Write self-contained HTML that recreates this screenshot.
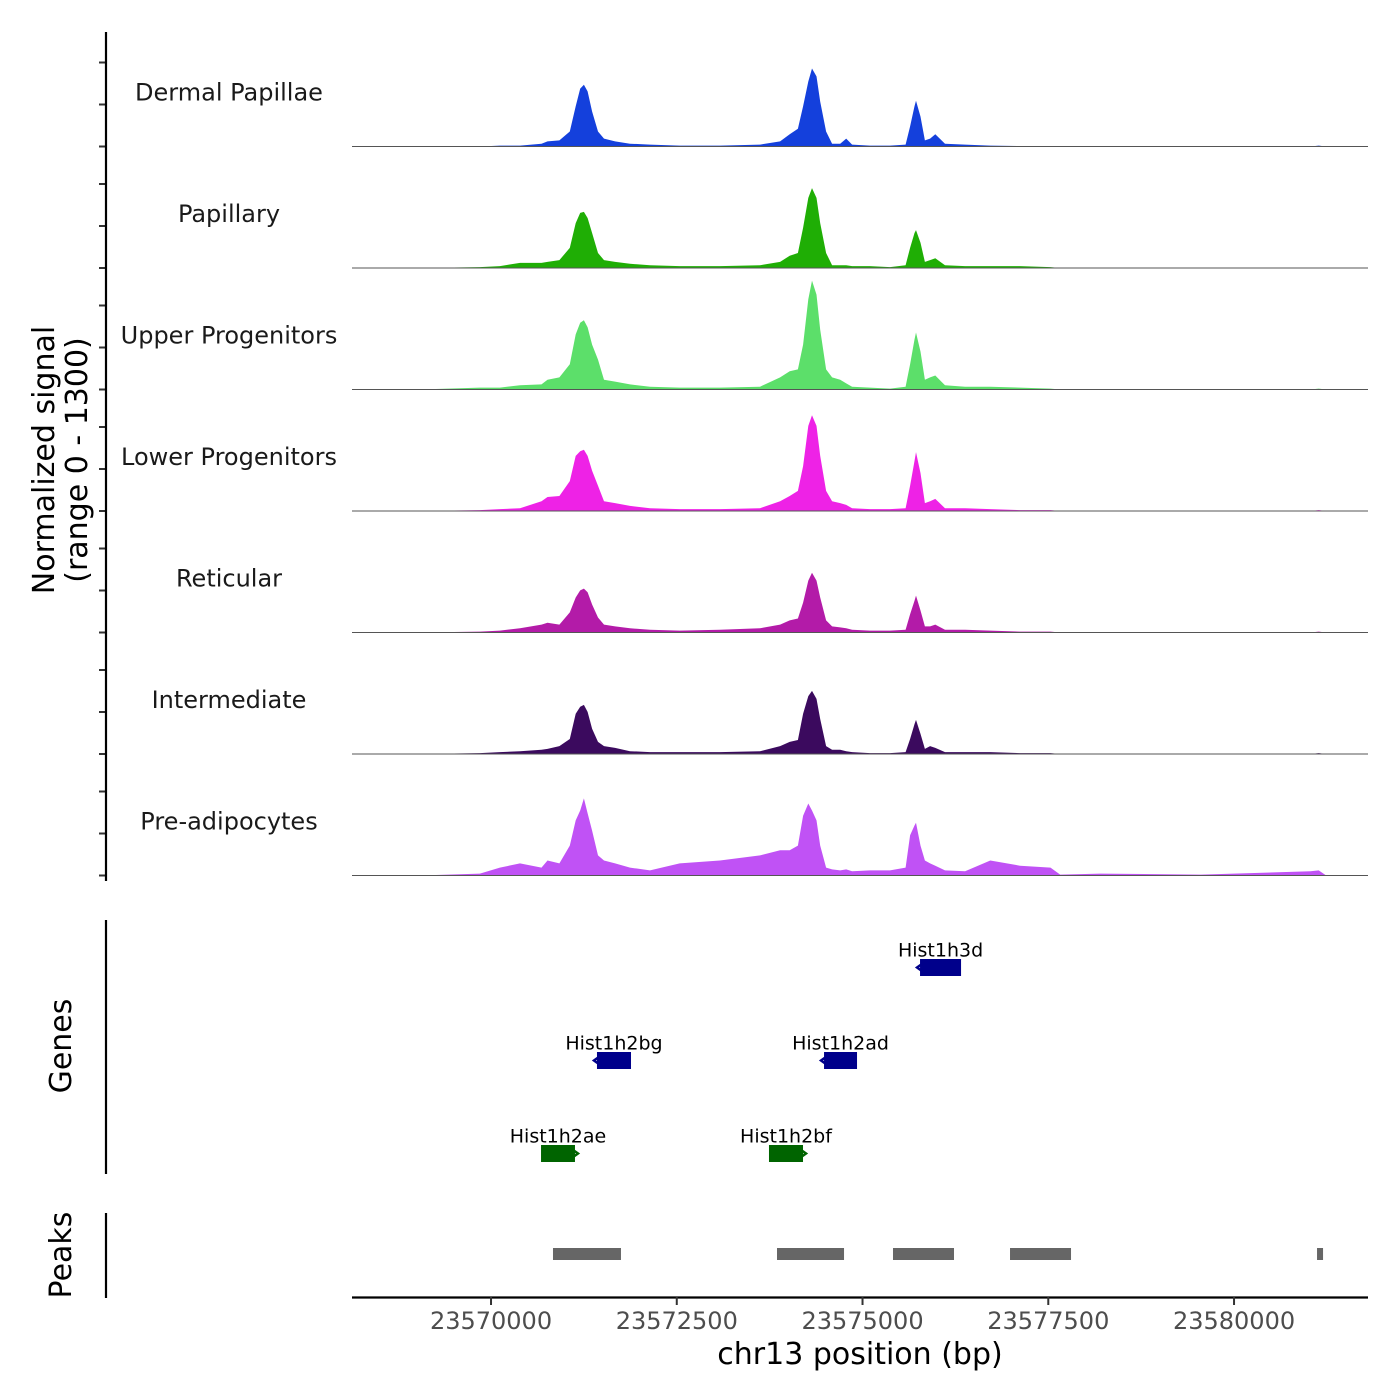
<!DOCTYPE html>
<html><head><meta charset="utf-8"><style>
html,body{margin:0;padding:0;background:#fff}
svg{display:block;font-family:"DejaVu Sans","Liberation Sans",sans-serif}
</style></head><body>
<svg id="chart" width="1400" height="1400" viewBox="0 0 1400 1400" xmlns="http://www.w3.org/2000/svg">
<g id="tracks"></g>
<g id="yaxis"></g>
<g id="genes"></g>
<g id="peaks"></g>
<g id="xaxis"></g>
<text transform="translate(54,460) rotate(-90)" text-anchor="middle" font-size="30" fill="#000">Normalized signal</text>
<text transform="translate(87,460) rotate(-90)" text-anchor="middle" font-size="30" fill="#000">(range 0 - 1300)</text>
<text transform="translate(71,1046) rotate(-90)" text-anchor="middle" font-size="30" fill="#000">Genes</text>
<text transform="translate(71,1255) rotate(-90)" text-anchor="middle" font-size="30" fill="#000">Peaks</text>
<text x="860" y="1364" text-anchor="middle" font-size="30" fill="#000">chr13 position (bp)</text>
</svg>
<script>
const positions=[23568120,23569040,23569850,23570120,23570390,23570680,23570760,23570920,23571060,23571140,23571200,23571250,23571300,23571360,23571440,23571520,23571670,23571870,23572140,23572540,23573080,23573620,23573890,23574020,23574130,23574200,23574270,23574320,23574380,23574430,23574510,23574590,23574700,23574780,23574860,23575100,23575370,23575580,23575640,23575700,23575720,23575780,23575840,23575910,23575980,23576110,23576380,23576720,23577120,23577530,23577660,23578200,23579550,23581030,23581140,23581240,23581820];
const trackNames=["Dermal Papillae","Papillary","Upper Progenitors","Lower Progenitors","Reticular","Intermediate","Pre-adipocytes"];
const trackColors=["#1440dc","#1fae05","#5cdf6a","#ee22e6","#b31ba8","#3b0a5e","#c052f5"];
const dermalPapillae=[0,0,0,10,10,30,55,65,160,430,620,660,590,375,160,85,55,30,20,10,10,20,55,130,190,430,695,835,750,480,160,30,30,85,20,10,10,20,215,430,490,320,65,85,130,30,20,10,5,0,0,0,0,0,10,0,0];
const papillary=[0,0,10,20,55,55,65,85,215,480,590,600,535,375,160,85,65,45,30,20,20,30,65,130,160,430,750,855,750,480,160,30,30,30,20,20,10,30,215,375,405,270,65,85,105,30,20,20,20,10,0,0,0,0,0,0,0];
const upperProgenitors=[0,0,20,20,45,55,105,130,270,590,715,740,665,480,320,105,85,55,30,20,20,30,130,195,215,480,965,1165,1015,640,215,130,105,65,30,20,10,30,270,535,610,405,105,130,150,45,30,30,20,10,0,0,0,0,10,0,0];
const lowerProgenitors=[0,0,10,20,30,105,150,160,320,590,640,655,590,430,270,105,85,55,30,20,20,30,105,160,215,480,910,1025,910,590,215,105,85,65,30,20,20,30,270,535,630,405,85,105,130,30,30,20,10,10,0,0,0,0,10,0,0];
const reticular=[0,0,10,20,45,85,105,85,215,375,450,470,430,300,160,85,65,45,30,20,30,45,85,130,150,320,555,640,555,375,130,65,55,45,30,20,20,30,195,340,395,235,65,65,85,30,30,20,10,10,0,0,0,0,10,0,0];
const intermediate=[0,0,10,20,30,45,55,85,160,430,505,525,450,270,130,85,65,30,20,20,20,30,85,130,150,430,620,675,590,375,85,45,45,30,20,10,10,20,160,320,365,215,55,85,65,20,20,20,10,10,0,0,0,0,10,0,0];
const preAdipocytes=[0,0,20,85,130,85,160,130,320,590,695,825,665,480,215,160,130,85,55,130,160,215,270,270,320,640,770,695,590,320,85,65,55,65,45,55,55,85,430,535,565,320,160,130,105,55,45,160,105,85,10,20,10,45,55,0,0];
const seriesValues=[dermalPapillae,papillary,upperProgenitors,lowerProgenitors,reticular,intermediate,preAdipocytes];
const xTicks=[23570000,23572500,23575000,23577500,23580000];
const xTickLabels=["23570000","23572500","23575000","23577500","23580000"];
const geneNames=["Hist1h3d","Hist1h2bg","Hist1h2ad","Hist1h2ae","Hist1h2bf"];
const geneStarts=[23575774,23571426,23574482,23570673,23573741];
const geneEnds=[23576326,23571884,23574926,23571130,23574199];
const geneRows=[0,1,1,2,2];
const geneStrands=["-","-","-","+","+"];
const peakStarts=[23570834,23573849,23575410,23576985,23581117];
const peakEnds=[23571749,23574751,23576231,23577806,23581198];

const NS="http://www.w3.org/2000/svg";
const X0=23568129,X1=23581803,PX0=352,PX1=1368;
function xs(v){return PX0+(v-X0)/(X1-X0)*(PX1-PX0);}
const trackH=121.5, firstBase=146.5, yMax=1300;
function ys(v,base){return base-v/yMax*trackH;}
function mk(tag,attrs,parent){const e=document.createElementNS(NS,tag);for(const k in attrs)e.setAttribute(k,attrs[k]);parent.appendChild(e);return e;}

const tg=document.getElementById('tracks');
const ya=document.getElementById('yaxis');
for(let t=0;t<seriesValues.length;t++){
  const base=firstBase+t*trackH;
  const vals=seriesValues[t];
  let d="M"+xs(positions[0]).toFixed(1)+","+base;
  for(let i=0;i<positions.length;i++){d+=" L"+xs(positions[i]).toFixed(1)+","+ys(vals[i],base).toFixed(1);}
  d+=" L"+xs(positions[positions.length-1]).toFixed(1)+","+base+" Z";
  const p=mk('path',{d:d,fill:trackColors[t]},tg);
  
  
  const bl=mk('line',{x1:PX0,x2:PX1,y1:base,y2:base,stroke:'#555','stroke-width':1},tg);
  
  
  const lb=mk('text',{x:229,y:base-46,'text-anchor':'middle','font-size':24,fill:'#1a1a1a'},tg);
  lb.textContent=trackNames[t];
  
  
  for(const off of [0,42,84]){
    const tk=mk('line',{x1:99,x2:106,y1:base-off,y2:base-off,stroke:'#333','stroke-width':2},ya);
    
    
  }
}
const yl=mk('line',{x1:106,x2:106,y1:32,y2:881,stroke:'#000','stroke-width':2.2},ya);



const gg=document.getElementById('genes');
const gl=mk('line',{x1:106,x2:106,y1:920,y2:1174,stroke:'#000','stroke-width':2.2},gg);


for(let i=0;i<geneNames.length;i++){
  const cy=967.5+geneRows[i]*93;
  const col=geneStrands[i]==="-"?"#00008b":"#006400";
  const x1=xs(geneStarts[i]),x2=xs(geneEnds[i]);
  const r=mk('rect',{x:x1,y:cy-8.5,width:x2-x1,height:17,fill:col},gg);
  
  
  const ax=geneStrands[i]==="-"?x1:x2, dir=geneStrands[i]==="-"?1:-1;
  const ar=mk('path',{d:`M${ax+dir*4},${cy-5} L${ax-dir*3},${cy} L${ax+dir*4},${cy+5}`,fill:'none',stroke:col,'stroke-width':2.5},gg);
  
  
  const t=mk('text',{x:(x1+x2)/2,y:cy-11,'text-anchor':'middle','font-size':19,fill:'#000'},gg);
  t.textContent=geneNames[i];
  
  
}

const pg=document.getElementById('peaks');
const pl=mk('line',{x1:106,x2:106,y1:1213,y2:1298,stroke:'#000','stroke-width':2.2},pg);


for(let i=0;i<peakStarts.length;i++){
  const x1=xs(peakStarts[i]),x2=xs(peakEnds[i]);
  const r=mk('rect',{x:x1,y:1248,width:Math.max(x2-x1,5),height:12,fill:'#666'},pg);
  
  
}

const xg=document.getElementById('xaxis');
const xl=mk('line',{x1:PX0,x2:PX1,y1:1297.5,y2:1297.5,stroke:'#000','stroke-width':2.2},xg);


for(let i=0;i<xTicks.length;i++){
  const x=xs(xTicks[i]);
  const tk=mk('line',{x1:x,x2:x,y1:1297,y2:1305,stroke:'#333','stroke-width':2},xg);
  
  
  const t=mk('text',{x:x,y:1329,'text-anchor':'middle','font-size':24,fill:'#4d4d4d'},xg);
  t.textContent=xTickLabels[i];
  
  
}
</script>
</body></html>
